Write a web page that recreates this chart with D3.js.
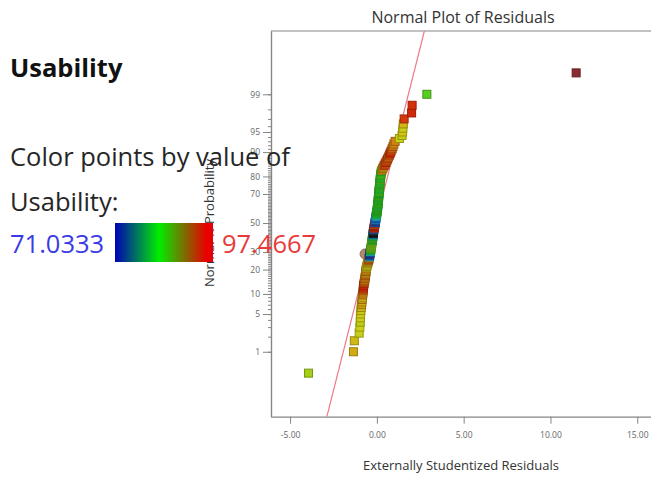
<!DOCTYPE html>
<html>
<head>
<meta charset="utf-8">
<script src="https://cdn.jsdelivr.net/npm/d3@7"></script>
<style>
  html, body { margin: 0; padding: 0; background: #ffffff; }
  svg { display: block; }
</style>
</head>
<body>
<script>
// Externally studentized residuals, sorted ascending (one per run)
const residuals = [
  -3.94, -1.35, -1.30, -1.02, -0.98, -0.96, -0.95, -0.94, -0.92, -0.90,
  -0.88, -0.86, -0.85, -0.83, -0.82, -0.80, -0.79, -0.78, -0.77, -0.76,
  -0.74, -0.72, -0.70, -0.69, -0.68, -0.66, -0.65, -0.64, -0.63, -0.62,
  -0.61, -0.60, -0.58, -0.56, -0.54, -0.52, -0.50, -0.48, -0.46, -0.45,
  -0.44, -0.42, -0.41, -0.40, -0.38, -0.37, -0.36, -0.35, -0.34, -0.33,
  -0.32, -0.31, -0.30, -0.30, -0.29, -0.28, -0.27, -0.26, -0.25, -0.24,
  -0.23, -0.22, -0.22, -0.21, -0.20, -0.20, -0.19, -0.18, -0.17, -0.16,
  -0.15, -0.14, -0.13, -0.12, -0.11, -0.10, -0.09, -0.08, -0.07, -0.07,
  -0.06, -0.05, -0.04, -0.03, -0.02, -0.01, 0.00, 0.01, 0.02, 0.02,
  0.03, 0.04, 0.04, 0.05, 0.06, 0.06, 0.07, 0.07, 0.08, 0.08,
  0.09, 0.10, 0.10, 0.11, 0.11, 0.12, 0.12, 0.13, 0.13, 0.14,
  0.15, 0.15, 0.16, 0.17, 0.17, 0.18, 0.19, 0.19, 0.20, 0.21,
  0.22, 0.23, 0.24, 0.26, 0.29, 0.33, 0.37, 0.42, 0.47, 0.52,
  0.57, 0.62, 0.67, 0.72, 0.77, 0.82, 0.88, 0.93, 0.98, 1.05,
  1.30, 1.45, 1.48, 1.50, 1.52, 1.57, 2.00, 2.03, 2.88, 11.48
];

// Usability response of the run behind each residual (same order)
const usability = [
  89.5, 92.5, 92.0, 90.8, 91.0, 90.5, 91.2, 90.9, 91.5, 92.0,
  93.0, 92.5, 93.4, 91.8, 94.0, 93.2, 95.0, 96.0, 96.8, 97.0,
  96.5, 95.5, 94.2, 94.8, 93.6, 95.2, 94.0, 93.0, 94.5, 92.8,
  93.9, 91.5, 92.3, 90.7, 91.9, 93.1, 92.0, 94.6, 95.6, 94.4,
  80.0, 73.5, 73.0, 72.5, 74.0, 78.0, 82.0, 85.0, 86.5, 88.0,
  87.0, 88.5, 88.2, 87.8, 88.6, 87.5, 86.0, 84.0, 85.5, 86.8,
  83.0, 81.0, 76.0, 71.5, 71.0333, 71.3, 71.8, 72.2, 75.0, 97.0,
  96.6, 97.3, 96.9, 95.0, 96.2, 74.0, 73.2, 72.8, 76.5, 74.5,
  73.8, 75.5, 78.0, 80.5, 82.0, 83.0, 83.5, 84.0, 85.2, 84.6,
  86.0, 83.0, 84.8, 85.5, 82.5, 84.2, 86.3, 85.0, 83.8, 84.5,
  85.8, 83.2, 84.9, 86.6, 85.1, 83.6, 84.3, 87.0, 85.4, 84.0,
  82.8, 85.9, 84.7, 86.2, 83.4, 85.3, 84.1, 86.8, 85.6, 83.9,
  84.4, 87.2, 85.0, 84.6, 93.5, 94.0, 92.8, 96.0, 95.5, 96.8,
  95.0, 96.3, 94.8, 95.7, 97.1, 96.0, 95.2, 94.5, 93.8, 94.0,
  91.0, 90.6, 91.4, 90.9, 92.0, 96.5, 97.0, 96.8, 86.5, 97.4667
];

// Highlighted run (drawn as a circle)
const highlightResidual = [-0.68];
const highlightPercent = [28.8];

// Reference line: residual = mean + sd * z
const refMean = -0.06;
const refSd = 0.806;

// Axis ticks
const xTicks = [-5, 0, 5, 10, 15];
const probTicks = [1, 5, 10, 20, 30, 50, 70, 80, 90, 95, 99];
const probMinorTicks = d3.range(1, 100);

// Colour legend range
const colorRange = [71.0333, 97.4667];

// Text
const titleText = "Normal Plot of Residuals";
const xLabel = "Externally Studentized Residuals";
const yLabel = "Normal % Probability";
const panelTitle = "Usability";
const panelLine1 = "Color points by value of";
const panelLine2 = "Usability:";

// Inverse of the standard normal CDF (Acklam's rational approximation)
function qnorm(p) {
  const a = [-3.969683028665376e+01, 2.209460984245205e+02, -2.759285104469687e+02,
             1.383577518672690e+02, -3.066479806614716e+01, 2.506628277459239e+00];
  const b = [-5.447609879822406e+01, 1.615858368580409e+02, -1.556989798598866e+02,
             6.680131188771972e+01, -1.328068155288572e+01];
  const c = [-7.784894002430293e-03, -3.223964580411365e-01, -2.400758277161838e+00,
             -2.549732539343734e+00, 4.374664141464968e+00, 2.938163982698783e+00];
  const d = [7.784695709041462e-03, 3.224671290700398e-01, 2.445134137142996e+00,
             3.754408661907416e+00];
  const pl = 0.02425, ph = 1 - pl;
  let q, r;
  if (p < pl) {
    q = Math.sqrt(-2 * Math.log(p));
    return (((((c[0]*q+c[1])*q+c[2])*q+c[3])*q+c[4])*q+c[5]) /
           ((((d[0]*q+d[1])*q+d[2])*q+d[3])*q+1);
  }
  if (p <= ph) {
    q = p - 0.5; r = q * q;
    return (((((a[0]*r+a[1])*r+a[2])*r+a[3])*r+a[4])*r+a[5])*q /
           (((((b[0]*r+b[1])*r+b[2])*r+b[3])*r+b[4])*r+1);
  }
  q = Math.sqrt(-2 * Math.log(1 - p));
  return -(((((c[0]*q+c[1])*q+c[2])*q+c[3])*q+c[4])*q+c[5]) /
          ((((d[0]*q+d[1])*q+d[2])*q+d[3])*q+1);
}

const W = 651, H = 477;
const plot = { left: 271, top: 31, right: 654.6, bottom: 416.7 };

const svg = d3.select("body").append("svg")
  .attr("width", W).attr("height", H)
  .style("font-family", "'Open Sans', 'Noto Sans', sans-serif");

svg.append("rect").attr("width", W).attr("height", H).attr("fill", "#ffffff");

const x = d3.scaleLinear().domain([-6.1, 16.0]).range([plot.left, plot.right]);
const y = d3.scaleLinear().domain([-3.5, 3.47]).range([plot.bottom, plot.top]);

// Point colours: blue -> green -> red by usability
const pointColor = d3.scaleLinear()
  .domain([colorRange[0], 73.5, 84.25, colorRange[1]])
  .range(["#161616", "#1a4fe0", "#22cc22", "#d41a0a"])
  .interpolate(d3.interpolateHsl)
  .clamp(true);

const n = residuals.length;
const points = residuals.map((r, i) => ({
  r,
  z: qnorm((i + 0.5) / n),
  u: usability[i]
}));

svg.append("defs").append("clipPath").attr("id", "plot-clip")
  .append("rect")
  .attr("x", plot.left).attr("y", plot.top)
  .attr("width", plot.right - plot.left).attr("height", plot.bottom - plot.top);

// Title and axis labels
svg.append("text")
  .attr("x", 463).attr("y", 23)
  .attr("text-anchor", "middle").attr("font-size", 16).attr("fill", "#333")
  .text(titleText);

svg.append("text")
  .attr("x", 461).attr("y", 470)
  .attr("text-anchor", "middle").attr("font-size", 13).attr("fill", "#333")
  .text(xLabel);

svg.append("text")
  .attr("transform", `translate(214,${y(0)}) rotate(-90)`)
  .attr("text-anchor", "middle").attr("font-size", 13).attr("fill", "#333")
  .text(yLabel);

// Axes
const axisColor = "#858585";
const xAxis = svg.append("g")
  .attr("transform", `translate(0,${plot.bottom})`)
  .call(d3.axisBottom(x).tickValues(xTicks).tickSize(7).tickSizeOuter(0)
    .tickPadding(8).tickFormat(d => d.toFixed(2)));

const probLabel = new Map(probTicks.map(p => [qnorm(p / 100), String(p)]));
const yMinor = svg.append("g")
  .attr("transform", `translate(${plot.left},0)`)
  .call(d3.axisLeft(y).tickValues(probMinorTicks.map(p => qnorm(p / 100)))
    .tickSize(3).tickSizeOuter(0).tickFormat(""));
const yAxis = svg.append("g")
  .attr("transform", `translate(${plot.left},0)`)
  .call(d3.axisLeft(y).tickValues(probTicks.map(p => qnorm(p / 100)))
    .tickSize(8).tickSizeOuter(0).tickPadding(3)
    .tickFormat(z => probLabel.get(z)));

[xAxis, yAxis, yMinor].forEach(g => {
  g.select(".domain").attr("stroke", axisColor).attr("stroke-width", 1.2);
  g.selectAll(".tick line").attr("stroke", axisColor);
  g.selectAll(".tick text").attr("fill", "#666").attr("font-size", 8.5)
    .style("font-family", "'Open Sans', sans-serif");
});

// Top frame line
svg.append("line")
  .attr("x1", plot.left).attr("x2", plot.right)
  .attr("y1", plot.top).attr("y2", plot.top)
  .attr("stroke", axisColor).attr("stroke-width", 1.2);

const inner = svg.append("g").attr("clip-path", "url(#plot-clip)");

// Normal reference line
const zEnds = y.domain();
inner.append("line")
  .attr("x1", x(refMean + refSd * zEnds[0])).attr("y1", y(zEnds[0]))
  .attr("x2", x(refMean + refSd * zEnds[1])).attr("y2", y(zEnds[1]))
  .attr("stroke", "#ec7a86").attr("stroke-width", 1.2);

// Highlighted run
inner.selectAll("circle.hl")
  .data(highlightResidual.map((r, i) => ({ r, z: qnorm(highlightPercent[i] / 100) })))
  .join("circle")
  .attr("class", "hl")
  .attr("cx", d => x(d.r)).attr("cy", d => y(d.z)).attr("r", 5)
  .attr("fill", "#b48a70").attr("stroke", "#8a6a58").attr("stroke-width", 1);

// Residual points as squares; runs far outside the limits are drawn muted
const s = 8;
const isOutlier = d => Math.abs(d.r) > 4;
inner.selectAll("rect.pt")
  .data(points)
  .join("rect")
  .attr("class", "pt")
  .attr("x", d => x(d.r) - s / 2).attr("y", d => y(d.z) - s / 2)
  .attr("width", s).attr("height", s)
  .attr("fill", d => {
    const c = pointColor(d.u);
    return isOutlier(d) ? d3.interpolateRgb(c, "#4a3a4e")(0.55) : c;
  })
  .attr("stroke", d => {
    const c = pointColor(d.u);
    return isOutlier(d) ? d3.color(d3.interpolateRgb(c, "#4a3a4e")(0.55)).darker(0.8)
                        : d3.color(c).darker(0.9);
  })
  .attr("stroke-width", 1);

// Left panel: colour legend
const panel = svg.append("g").attr("fill", "#262626");
panel.append("text").attr("x", 10).attr("y", 77)
  .attr("font-size", 25.5).attr("font-weight", "bold").attr("fill", "#111")
  .text(panelTitle);
panel.append("text").attr("x", 10).attr("y", 166).attr("font-size", 25.5).text(panelLine1);
panel.append("text").attr("x", 10).attr("y", 211).attr("font-size", 25.5).text(panelLine2);

const grad = svg.select("defs").append("linearGradient").attr("id", "legend-grad");
[[0, "#0000b8"], [0.45, "#00ee00"], [0.93, "#e80000"], [1, "#e80000"]].forEach(([o, c]) =>
  grad.append("stop").attr("offset", o).attr("stop-color", c));

svg.append("rect")
  .attr("x", 115).attr("y", 223).attr("width", 98).attr("height", 39)
  .attr("fill", "url(#legend-grad)");

svg.append("text").attr("x", 10).attr("y", 253).attr("font-size", 25.5)
  .attr("fill", "#3a3ae6").text(colorRange[0].toFixed(4));
svg.append("text").attr("x", 222).attr("y", 253).attr("font-size", 25.5)
  .attr("fill", "#e83a3a").text(colorRange[1].toFixed(4));
</script>
</body>
</html>
